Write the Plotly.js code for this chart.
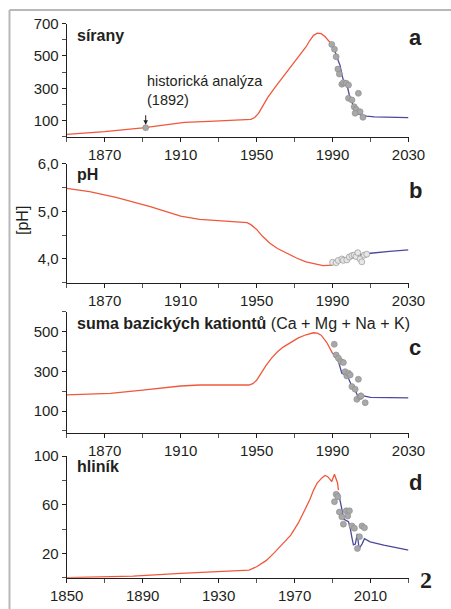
<!DOCTYPE html>
<html>
<head>
<meta charset="utf-8">
<script src="https://cdn.plot.ly/plotly-3.0.1.min.js"></script>
<style>html,body{margin:0;padding:0;background:#fff}#chart{width:451px;height:609px}</style>
</head>
<body>
<div id="chart"></div>
<script>
// ---- Panel a: sírany ----
const aModelYears = [1850,1870,1890,1905,1912,1925,1945,1947,1949,1951,1953,1956,1960,1965,1970,1973,1976,1978,1980,1982,1984,1986,1988,1990];
const aModelVals  = [16,33,56,80,90,96,104,108,120,145,185,245,310,385,460,505,555,595,627,640,637,620,595,565];
const aFitYears = [1990,1991,1992,1993,1994,1995,1996,1997,1998,1999,2000,2001,2002,2003,2005,2008,2012,2020,2030];
const aFitVals  = [565,540,505,470,440,380,340,325,300,250,225,190,160,145,135,128,124,120,119];
const aObsYears = [1989.6,1991,1991.9,1992.8,1993.6,1994.9,1995.7,1997.2,1998.4,1998.4,2000.2,2001.4,2003.6,2002.4,2004.5,2001.9,2006];
const aObsVals  = [571,541,495,419,388,325,335,331,320,238,228,186,269,170,156,146,121];
const histYear = [1891.6];
const histVal = [57];

// ---- Panel b: pH ----
const bModelYears = [1850,1862,1876,1894,1910,1920,1945,1947,1950,1953,1957,1961,1966,1971,1976,1981,1985,1990];
const bModelVals  = [5.48,5.41,5.29,5.10,4.90,4.83,4.76,4.72,4.62,4.48,4.33,4.22,4.12,4.02,3.94,3.89,3.86,3.87];
const bFitYears = [1990,1992,1994,1996,1998,2000,2002,2003.5,2005,2007,2010,2020,2030];
const bFitVals  = [3.88,3.92,3.96,3.98,4.02,4.06,4.10,4.13,4.08,4.10,4.12,4.16,4.19];
const bObsYears = [1990,1991.9,1993,1994.9,1995.7,1997.5,1998.8,2000.2,2001.4,2002.4,2003.3,2004.5,2005.4,2006.7,2008];
const bObsVals  = [3.93,3.92,3.97,4.00,3.97,3.98,4.04,4.07,4.08,4.05,4.13,4.00,3.94,4.08,4.10];

// ---- Panel c: suma bazických kationtů ----
const cModelYears = [1850,1873,1890,1910,1920,1946,1948,1950,1952,1955,1958,1961,1964,1968,1972,1976,1978,1980,1982,1984,1987,1989.6,1990];
const cModelVals  = [181,189,205,226,231,231,238,255,285,330,368,398,422,446,468,484,490,494,492,482,445,399,390];
const cFitYears = [1990,1991.4,1993.1,1994.9,1996.6,1998.4,2000.2,2001.9,2003.2,2004.9,2006.3,2010,2030];
const cFitVals  = [390,382,349,290,282,265,223,206,176,189,176,169,166];
const cObsYears = [1990.9,1991.9,1993.1,1994.4,1995.7,1996.6,1997.5,1998.4,1999.3,2000.2,2001.9,2003.6,2002.8,2004.5,2007.2,2005];
const cObsVals  = [436,382,366,349,344,298,277,290,282,223,210,260,159,172,142,176];

// ---- Panel d: hliník ----
const dModelYears = [1850,1870,1885,1910,1930,1946,1950,1955,1959,1964,1968,1972,1975,1978,1980,1982,1984.4,1986,1987.5,1989.6,1991,1992.6,1993.1];
const dModelVals  = [0,0.5,1.3,3.5,5,6.3,9,14,20,28,35,45,54,64,72,78,82,84,83,79,85,78,72];
const dFitYears = [1993.1,1995,1996,1998.4,1999.3,2000.2,2001,2002,2003,2004,2005.5,2006.8,2009.8,2017,2030];
const dFitVals  = [70,56,48,46,41,33,27,27.6,36,24,27.6,32,29.5,26.8,22.7];
const dObsYears = [1991,1991.9,1992.8,1993.6,1994.9,1995.7,1997.2,1998.9,1998,2000.2,2001.5,2003.1,2004.2,2005.5,2006.8];
const dObsVals  = [62.5,68.5,66.6,54,50,44,55,55,50.7,42.5,40.6,24,33.7,42.5,41];

// ---- ticks / labels ----
const xTicksABC = [1870,1910,1950,1990,2030];
const xTicksD = [1850,1890,1930,1970,2010];
const yTicksA = [100,300,500,700];
const yTicksB = [4,5,6];
const yTickTextB = ['4,0','5,0','6,0'];
const yTicksC = [100,300,500];
const yTicksD = [20,60,100];
const panelTitles = ['<b>sírany</b>','<b>pH</b>','<b>suma bazických kationtů</b> (Ca + Mg + Na + K)','<b>hliník</b>'];
const panelLetters = ['a','b','c','d'];
const histText = 'historická analýza<br>(1892)';
const yLabelB = '[pH]';
const figNumber = '2';

const RED = '#f0583c', BLUE = '#4a4a9c', INK = '#231f20';
const FONT = 'Liberation Sans, Arial, Helvetica, sans-serif';
const H = 609, W = 451;
const px = v => v / W, py = v => 1 - v / H;

function line(x, y, color, ax) {
  return {x, y, type:'scatter', mode:'lines', line:{color, width:1.3}, xaxis:'x'+ax, yaxis:'y'+ax, hoverinfo:'skip'};
}
function pts(x, y, ax, fill) {
  return {x, y, type:'scatter', mode:'markers', marker:{size:6, color:fill, line:{color:'#8a8a8a', width:0.6}}, xaxis:'x'+ax, yaxis:'y'+ax, hoverinfo:'skip'};
}

const traces = [
  line(aModelYears, aModelVals, RED, ''), line(aFitYears, aFitVals, BLUE, ''),
  pts(aObsYears, aObsVals, '', '#a8a8a8'), pts(histYear, histVal, '', '#a8a8a8'),
  line(bModelYears, bModelVals, RED, '2'), line(bFitYears, bFitVals, BLUE, '2'),
  pts(bObsYears, bObsVals, '2', '#e6e6e6'),
  line(cModelYears, cModelVals, RED, '3'), line(cFitYears, cFitVals, BLUE, '3'),
  pts(cObsYears, cObsVals, '3', '#a8a8a8'),
  line(dModelYears, dModelVals, RED, '4'), line(dFitYears, dFitVals, BLUE, '4'),
  pts(dObsYears, dObsVals, '4', '#a8a8a8')
];

const tickFont = {family:FONT, size:15, color:INK};
function xax(anchor, vals) {
  return {domain:[px(66.7), px(408.5)], range:[1850,2030], anchor, showline:true, linecolor:INK, linewidth:1,
    ticks:'outside', ticklen:4, tickcolor:INK, tickvals:vals, ticktext:vals.map(String), tickfont:tickFont,
    minor:{tickmode:'linear', tick0:1850, dtick:20, ticks:'outside', ticklen:4, tickcolor:'#555'},
    showgrid:false, zeroline:false, fixedrange:true};
}
function yax(anchor, dom, range, vals, text, minorD, minor0) {
  return {domain:dom, range, anchor, showline:true, linecolor:INK, linewidth:1,
    ticks:'outside', ticklen:4, tickcolor:INK, tickvals:vals, ticktext:text, tickfont:tickFont,
    minor:{tickmode:'linear', tick0:minor0, dtick:minorD, ticks:'outside', ticklen:4, tickcolor:'#555'},
    showgrid:false, zeroline:false, fixedrange:true};
}

const annFont = {family:FONT, size:16, color:INK};
const titleY = [35, 174, 323, 466];
const letterY = [37, 191, 347, 482];
const annotations = [];
panelTitles.forEach((t, i) => annotations.push({xref:'paper', yref:'paper', x:px(75), y:py(titleY[i]), xanchor:'left', yanchor:'middle', text:t, showarrow:false, font:annFont}));
panelLetters.forEach((t, i) => annotations.push({xref:'paper', yref:'paper', x:px(415), y:py(letterY[i]), xanchor:'center', yanchor:'middle', text:'<b>'+t+'</b>', showarrow:false, font:{family:FONT, size:22, color:INK}}));
annotations.push({xref:'paper', yref:'paper', x:px(145), y:py(90), xanchor:'left', yanchor:'middle', align:'left', text:histText, showarrow:false, font:{family:FONT, size:14.5, color:INK}});
annotations.push({xref:'x', yref:'y', x:histYear[0], y:75, ax:0, ay:-11, text:'', showarrow:true, arrowhead:2, arrowsize:0.9, arrowwidth:1, arrowcolor:INK});
annotations.push({xref:'paper', yref:'paper', x:px(22), y:py(221), xanchor:'center', yanchor:'middle', text:yLabelB, textangle:-90, showarrow:false, font:annFont});
annotations.push({xref:'paper', yref:'paper', x:px(426), y:py(580), xanchor:'center', yanchor:'middle', text:'<b>'+figNumber+'</b>', showarrow:false, font:{family:'Liberation Serif, DejaVu Serif, serif', size:24, color:INK}});

const layout = {
  width:W, height:H, margin:{l:0, r:0, t:0, b:0}, paper_bgcolor:'#fff', plot_bgcolor:'rgba(0,0,0,0)',
  showlegend:false, font:{family:FONT, color:INK},
  xaxis: xax('y', xTicksABC), xaxis2: xax('y2', xTicksABC), xaxis3: xax('y3', xTicksABC), xaxis4: xax('y4', xTicksD),
  yaxis:  yax('x',  [py(136.9), py(23.5)], [0,700], yTicksA, yTicksA.map(String), 100, 0),
  yaxis2: yax('x2', [py(282.8), py(163.6)], [3.5,6.0], yTicksB, yTickTextB, 0.5, 3.5),
  yaxis3: yax('x3', [py(432.7), py(311.7)], [-9,600], yTicksC, yTicksC.map(String), 100, 0),
  yaxis4: yax('x4', [py(577.7), py(456)], [0,100], yTicksD, yTicksD.map(String), 20, 0),
  annotations,
  shapes: [
    {type:'line', xref:'paper', yref:'paper', x0:px(9.5), x1:1, y0:py(10), y1:py(10), line:{color:'#b8b8b8', width:2}},
    {type:'line', xref:'paper', yref:'paper', x0:px(9.5), x1:px(9.5), y0:0, y1:py(10), line:{color:'#b8b8b8', width:2}}
  ]
};

Plotly.newPlot('chart', traces, layout, {staticPlot:true, displayModeBar:false});
</script>
</body>
</html>
